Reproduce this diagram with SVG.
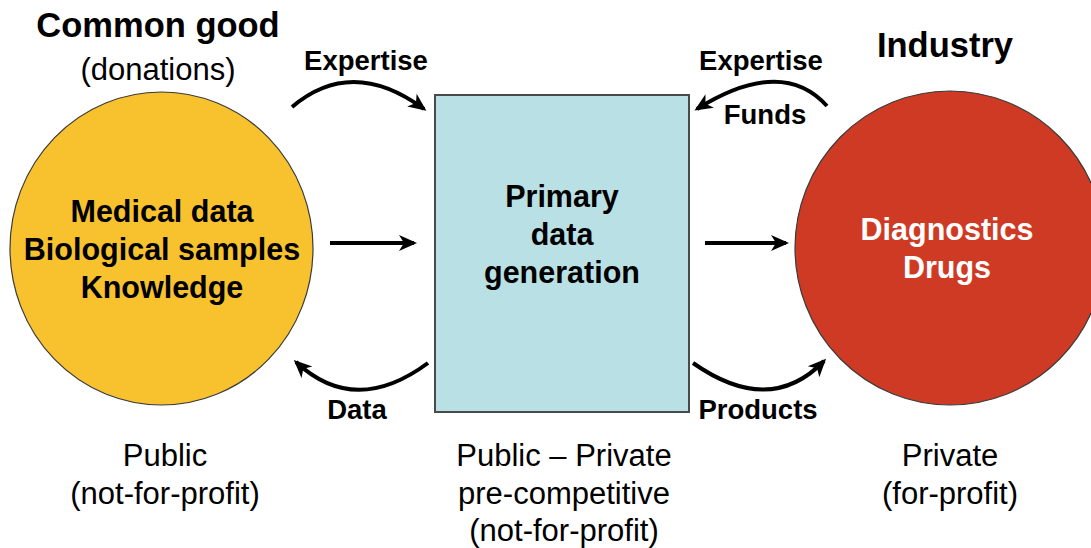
<svg xmlns="http://www.w3.org/2000/svg" width="1091" height="548" viewBox="0 0 1091 548">
<style>
text{font-family:"Liberation Sans",Arial,sans-serif;text-anchor:middle;fill:#000}
.t{font-weight:bold;font-size:34.5px}
.m{font-weight:bold;font-size:30.5px}
.l{font-weight:bold;font-size:27.5px}
.r{font-size:31px}
.w{fill:#fff}
.c{fill:none;stroke:#000;stroke-width:4;marker-end:url(#ah)}
</style>
<defs>
<marker id="ah" viewBox="0 0 18 18" refX="15" refY="9" markerWidth="18" markerHeight="18" markerUnits="userSpaceOnUse" orient="auto">
<path d="M0,1 L18,9 L0,17 L5,9 Z" fill="#000"/>
</marker>
</defs>
<rect width="1091" height="548" fill="#fff"/>
<g id="common-good">
<ellipse cx="161.5" cy="248.5" rx="151.5" ry="156.5" fill="#f8c22f" stroke="#3a3a3a" stroke-width="1.2"/>
<text class="t" x="158" y="37">Common good</text>
<text class="r" x="158" y="80">(donations)</text>
<text class="m" x="162" y="222">Medical data</text>
<text class="m" x="162" y="260">Biological samples</text>
<text class="m" x="162" y="298">Knowledge</text>
<text class="r" x="165" y="466">Public</text>
<text class="r" x="165" y="504">(not-for-profit)</text>
</g>
<g id="primary">
<rect x="435" y="95" width="254" height="317" fill="#b9e0e4" stroke="#4a4a4a" stroke-width="2"/>
<text class="m" x="562" y="207">Primary</text>
<text class="m" x="562" y="245">data</text>
<text class="m" x="562" y="283">generation</text>
<text class="r" x="564" y="466">Public – Private</text>
<text class="r" x="564" y="504">pre-competitive</text>
<text class="r" x="564" y="541">(not-for-profit)</text>
</g>
<g id="industry">
<ellipse cx="950" cy="248" rx="155" ry="157" fill="#cf3a24" stroke="#3a3a3a" stroke-width="1.2"/>
<text class="t" x="945" y="57">Industry</text>
<text class="m w" x="947" y="240">Diagnostics</text>
<text class="m w" x="947" y="278">Drugs</text>
<text class="r" x="950" y="466">Private</text>
<text class="r" x="950" y="504">(for-profit)</text>
</g>
<g id="connectors">
<path class="c" d="M292,107 Q352,56 424,109"/>
<path class="c" d="M827,106 Q782,56 697,109"/>
<path class="c" d="M428,363 Q355,417 296,362"/>
<path class="c" d="M693,363 Q770,417 824,361"/>
<path class="c" d="M330,243 L414,243"/>
<path class="c" d="M705,243 L786,243"/>
<text class="l" x="366" y="70">Expertise</text>
<text class="l" x="761" y="70">Expertise</text>
<text class="l" x="765" y="124">Funds</text>
<text class="l" x="357" y="419">Data</text>
<text class="l" x="758" y="419">Products</text>
</g>
</svg>
